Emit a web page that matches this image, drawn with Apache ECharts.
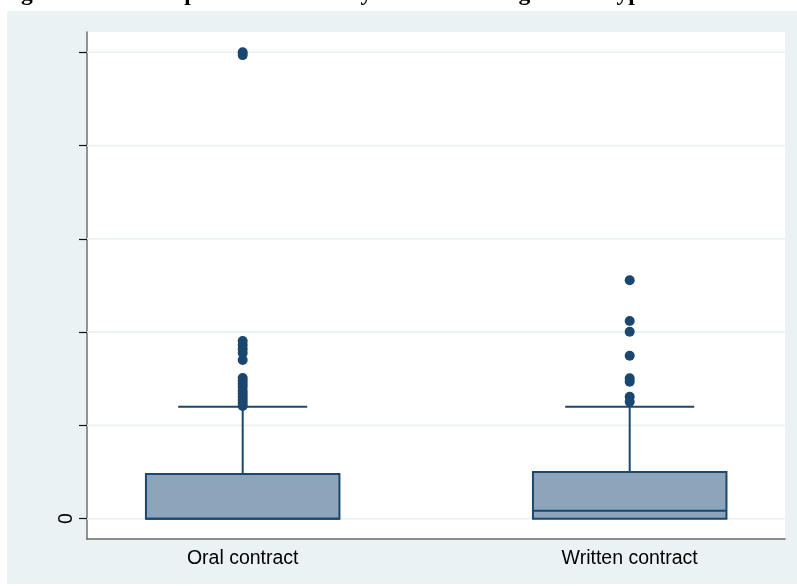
<!DOCTYPE html>
<html>
<head>
<meta charset="utf-8">
<script src="https://cdn.jsdelivr.net/npm/echarts@6/dist/echarts.min.js"></script>
<style>
  html, body { margin: 0; padding: 0; background: #ffffff; }
  #chart { width: 797px; height: 586px; }
</style>
</head>
<body>
<div id="chart"></div>
<script>
// ---- data ----
const TITLE = 'Figure 4: The compensation levels by the contracting labour type';
const categories = ['Oral contract', 'Written contract'];
const categoryPos = [1, 2];
// box statistics: [q1, median, q3, lowerWhisker, upperWhisker]
const oralBox = [0, 0, 0.479, 0, 1.20];
const writtenBox = [0, 0.086, 0.50, 0, 1.20];
const oralOutliers = [5.00, 4.97, 1.905, 1.862, 1.819, 1.776, 1.701, 1.508, 1.476, 1.444, 1.412, 1.369, 1.337, 1.305, 1.272, 1.240, 1.208];
const writtenOutliers = [2.556, 2.119, 2.004, 1.747, 1.505, 1.468, 1.308, 1.254];
const yTicks = [0, 1, 2, 3, 4, 5];
const yLabelTicks = [0];

// ---- style ----
const NAVY = '#1A476F';
const FILL = '#8DA4BA';
const PANEL = '#EAF2F3';
const BOX_HALF = 0.25;
const CAP_HALF = 0.1667;

const boxData = [
  [categoryPos[0]].concat(oralBox),
  [categoryPos[1]].concat(writtenBox)
];
const outlierData = [];
oralOutliers.forEach(v => outlierData.push([categoryPos[0], v]));
writtenOutliers.forEach(v => outlierData.push([categoryPos[1], v]));

const chart = echarts.init(document.getElementById('chart'), null, { renderer: 'canvas' });

const option = {
  animation: false,
  backgroundColor: 'transparent',
  graphic: [
    { type: 'rect', z: -100, silent: true, shape: { x: 7, y: 11, width: 790, height: 573 }, style: { fill: PANEL } },
    { type: 'text', z: 10, silent: true, x: 0, y: -6,
      style: { text: TITLE, font: 'bold 23.5px "Liberation Serif"', fill: '#000', verticalAlign: 'middle' } }
  ],
  grid: {
    left: 87, right: 12, top: 32, bottom: 47,
    show: true, backgroundColor: '#ffffff', borderWidth: 0
  },
  xAxis: {
    type: 'value',
    min: 0.5977, max: 2.4013,
    axisLine: { show: true, onZero: false, lineStyle: { color: '#6a6a6a', width: 1.6 } },
    axisTick: { show: false },
    splitLine: { show: false },
    axisLabel: {
      customValues: categoryPos,
      formatter: v => categories[categoryPos.indexOf(Math.round(v))] || '',
      color: '#000', fontFamily: 'Liberation Sans', fontSize: 19.5, margin: 10
    }
  },
  yAxis: {
    type: 'value',
    min: -0.2176, max: 5.2176,
    axisLine: { show: true, onZero: false, lineStyle: { color: '#7a7a7a', width: 1.6 } },
    axisTick: { show: true, customValues: yTicks, length: 8, lineStyle: { color: '#111', width: 1.2 } },
    splitLine: { show: false },
    axisLabel: {
      customValues: yLabelTicks, rotate: 90,
      color: '#000', fontFamily: 'Liberation Sans', fontSize: 19.5, margin: 10
    }
  },
  series: [
    {
      type: 'custom', z: 1, silent: true,
      data: yTicks.map(v => [0, v]),
      encode: { y: 1 },
      renderItem: function (params, api) {
        const cs = params.coordSys;
        const p = api.coord([1, api.value(1)]);
        return { type: 'line', shape: { x1: cs.x, y1: p[1], x2: cs.x + cs.width, y2: p[1] },
          style: { stroke: PANEL, lineWidth: 1.6 } };
      }
    },
    {
      type: 'custom', z: 2, silent: true,
      data: boxData,
      encode: { x: 0, y: [1, 2, 3, 4, 5] },
      renderItem: function (params, api) {
        const x = api.value(0);
        const q1 = api.coord([x, api.value(1)]);
        const med = api.coord([x, api.value(2)]);
        const q3 = api.coord([x, api.value(3)]);
        const lo = api.coord([x, api.value(4)]);
        const hi = api.coord([x, api.value(5)]);
        const hw = api.size([BOX_HALF, 0])[0];
        const cw = api.size([CAP_HALF, 0])[0];
        const cx = q1[0];
        const ls = { stroke: NAVY, lineWidth: 2 };
        const children = [
          { type: 'line', shape: { x1: cx, y1: q3[1], x2: cx, y2: hi[1] }, style: ls },
          { type: 'line', shape: { x1: cx - cw, y1: hi[1], x2: cx + cw, y2: hi[1] }, style: ls },
          { type: 'rect', shape: { x: cx - hw, y: q3[1], width: 2 * hw, height: q1[1] - q3[1] },
            style: { fill: FILL, stroke: NAVY, lineWidth: 2 } },
          { type: 'line', shape: { x1: cx - hw, y1: med[1], x2: cx + hw, y2: med[1] }, style: ls }
        ];
        if (lo[1] - q1[1] > 0.5) {
          children.push({ type: 'line', shape: { x1: cx, y1: q1[1], x2: cx, y2: lo[1] }, style: ls });
          children.push({ type: 'line', shape: { x1: cx - cw, y1: lo[1], x2: cx + cw, y2: lo[1] }, style: ls });
        }
        return { type: 'group', children: children };
      }
    },
    {
      type: 'scatter', z: 3, silent: true,
      data: outlierData,
      symbol: 'circle', symbolSize: 10,
      itemStyle: { color: NAVY, opacity: 1 }
    }
  ]
};
chart.setOption(option);
</script>
</body>
</html>
